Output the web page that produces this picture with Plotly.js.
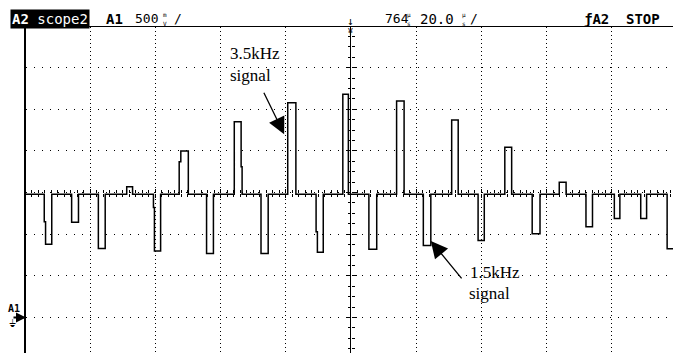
<!DOCTYPE html>
<html><head><meta charset="utf-8">
<script src="https://cdn.plot.ly/plotly-3.0.1.min.js"></script>
<style>html,body{margin:0;padding:0;background:#fff;overflow:hidden}#chart{width:673px;height:355px}</style>
</head><body><div id="chart"></div>
<script>
// Oscilloscope capture: time in µs relative to screen centre (20 µs/div),
// voltage in V (500 mV/div, channel A1 ground at 0 V)
const timePerDiv = 20;
const voltsPerDiv = 0.5;
const baselineV = 1.48;
// each pulse (or edge step) of the trace: start time, end time, level
const pulseStart = [-94.1, -93.7, -85.7, -77.5, -68.8, -60.6, -60.3, -52.7, -52.2, -44.3, -35.8, -33.7, -27.6, -19.4, -10.7, -10.3, -2.5, 5.5, 14.0, 22.2, 30.9, 39.0, 47.2, 55.6, 63.9, 72.1, 80.8, 88.9, 97.0];
const pulseEnd   = [-93.7, -91.8, -83.6, -75.4, -67.0, -60.3, -58.4, -52.2, -49.9, -42.2, -33.7, -33.4, -25.4, -16.9, -10.3, -8.5, -0.8, 7.9, 16.3, 24.5, 32.9, 40.9, 49.3, 58.0, 66.0, 74.1, 82.5, 90.7, 100.0];
const pulseLevel = [1.15, 0.88, 1.145, 0.83, 1.57, 1.32, 0.80, 1.87, 2.00, 0.77, 2.35, 1.81, 0.77, 2.58, 1.03, 0.785, 2.68, 0.82, 2.60, 0.865, 2.37, 0.925, 2.045, 1.005, 1.625, 1.09, 1.19, 1.19, 0.825];
// header readouts
const headerLeft = ["scope2", "A1", "500"];
const headerRight = ["764", "20.0", "ƒA2", "STOP"];
const labelTop = ["3.5kHz", "signal"];
const labelBottom = ["1.5kHz", "signal"];

const xRange = [-99.7, 98.8];
const yRange = [-0.426, 3.488];

// build the step waveform
const xs = [xRange[0]], ys = [baselineV];
for (let i = 0; i < pulseStart.length; i++) {
  xs.push(pulseStart[i]); ys.push(pulseLevel[i]);
  const next = pulseStart[i + 1];
  if (next === undefined || next > pulseEnd[i] + 1e-9) { xs.push(pulseEnd[i]); ys.push(baselineV); }
}
xs.push(xRange[1]); ys.push(baselineV);

// plot area in pixels
const L = 26, T = 27, W = 647, H = 326;
function px(x) { return (x - L) / W; }
function py(y) { return (T + H - y) / H; }
const centerX = (0 - xRange[0]) / (xRange[1] - xRange[0]);
const centerY = (1.5 - yRange[0]) / (yRange[1] - yRange[0]);

const mono = 'DejaVu Sans Mono';
function hdr(text, x, y, size, extra) {
  return Object.assign({xref: 'paper', yref: 'paper', x: px(x), y: py(y), xanchor: 'left', yanchor: 'middle',
    text: text, showarrow: false, font: {family: mono, size: size, color: '#000'}, borderpad: 0}, extra || {});
}
const serif = {family: 'Liberation Serif', size: 17, color: '#000'};

const annotations = [
  hdr('<b>A2</b> ' + headerLeft[0], 10, 19, 14, {bgcolor: '#000', font: {family: mono, size: 14, color: '#fff'}, borderpad: 1}),
  hdr('<b>' + headerLeft[1] + '</b>', 105, 19, 14),
  hdr(headerLeft[2], 134, 19, 13),
  hdr('m', 162, 15, 6),
  hdr('V', 162, 23, 6),
  hdr('/', 173, 19, 13),
  hdr('↓', 346, 21, 11),
  hdr('¥', 347, 32, 8),
  hdr(headerRight[0], 384, 19, 13),
  hdr('µ', 406, 15, 6),
  hdr('s', 406, 23, 6),
  hdr(headerRight[1], 419, 19, 14),
  hdr('µ', 461, 15, 6),
  hdr('s', 461, 23, 6),
  hdr('/', 469, 19, 13),
  hdr('<b>' + headerRight[2] + '</b>', 583, 19, 14),
  hdr('<b>' + headerRight[3] + '</b>', 625, 19, 14),
  hdr('<b>A1</b>', 7, 308, 10),
  hdr('⏚', 8, 323, 10),
  {xref: 'paper', yref: 'y', x: 0, y: 0, ax: -14, ay: 0, text: '', showarrow: true, arrowhead: 2, arrowsize: 1, arrowwidth: 2, arrowcolor: '#000'},
  hdr(labelTop[0], 229, 54, 17, {font: serif}),
  hdr(labelTop[1], 229, 75, 17, {font: serif}),
  hdr(labelBottom[0], 469, 272, 17, {font: serif}),
  hdr(labelBottom[1], 468, 293, 17, {font: serif}),
  {xref: 'x', yref: 'y', x: -20.5, y: 2.20, ax: -21, ay: -43, text: '', showarrow: true, arrowhead: 2, arrowsize: 2.6, arrowwidth: 1.3, arrowcolor: '#000'},
  {xref: 'x', yref: 'y', x: 24.5, y: 0.92, ax: 32, ay: 39, text: '', showarrow: true, arrowhead: 2, arrowsize: 2.6, arrowwidth: 1.3, arrowcolor: '#000'}
];

const ovX = {overlaying: 'x', anchor: 'free', position: centerY, range: xRange, showgrid: false, zeroline: false,
  showticklabels: false, showline: false, tick0: 0, dtick: timePerDiv, ticklen: 4, tickcolor: '#000', tickwidth: 1,
  minor: {dtick: timePerDiv / 10, ticklen: 3, tickcolor: '#000', tickwidth: 1, ticks: 'outside'}};
const ovY = {overlaying: 'y', anchor: 'free', position: centerX, range: yRange, showgrid: false, zeroline: false,
  showticklabels: false, showline: false, tick0: 0, dtick: voltsPerDiv, ticklen: 5, tickcolor: '#000', tickwidth: 1,
  minor: {dtick: voltsPerDiv / 4, ticklen: 3, tickcolor: '#000', tickwidth: 1, ticks: 'outside'}};

const layout = {
  width: 673, height: 355,
  margin: {l: L, r: 673 - L - W, t: T, b: 355 - T - H, pad: 0},
  paper_bgcolor: '#fff', plot_bgcolor: '#fff',
  showlegend: false,
  xaxis: {range: xRange, side: 'top', showline: true, linecolor: '#000', linewidth: 1, ticks: '', showticklabels: false,
    showgrid: true, gridcolor: '#000', gridwidth: 1, griddash: '1px,3px', tick0: 0, dtick: timePerDiv,
    zeroline: true, zerolinecolor: '#000', zerolinewidth: 1},
  yaxis: {range: yRange, showline: true, linecolor: '#000', linewidth: 2, ticks: '', showticklabels: false,
    showgrid: true, gridcolor: '#000', gridwidth: 1, griddash: '1px,7px', tick0: 0, dtick: voltsPerDiv, zeroline: false},
  xaxis2: Object.assign({}, ovX, {ticks: 'outside', side: 'bottom', minor: Object.assign({}, ovX.minor, {ticks: 'outside'})}),
  xaxis3: Object.assign({}, ovX, {ticks: 'inside', side: 'bottom', minor: Object.assign({}, ovX.minor, {ticks: 'inside'})}),
  yaxis2: Object.assign({}, ovY, {ticks: 'outside', side: 'left', minor: Object.assign({}, ovY.minor, {ticks: 'outside'})}),
  yaxis3: Object.assign({}, ovY, {ticks: 'inside', side: 'left', minor: Object.assign({}, ovY.minor, {ticks: 'inside'})}),
  annotations: annotations
};

const data = [
  {type: 'scatter', mode: 'lines', x: xs, y: ys, line: {shape: 'hv', color: '#000', width: 1.5}, hoverinfo: 'skip'},
  {type: 'scatter', mode: 'lines', x: [0], y: [1.5], xaxis: 'x2', yaxis: 'y2', line: {width: 0}, hoverinfo: 'skip'},
  {type: 'scatter', mode: 'lines', x: [0], y: [1.5], xaxis: 'x3', yaxis: 'y3', line: {width: 0}, hoverinfo: 'skip'}
];

Plotly.newPlot('chart', data, layout, {staticPlot: true, displayModeBar: false});
</script></body></html>
